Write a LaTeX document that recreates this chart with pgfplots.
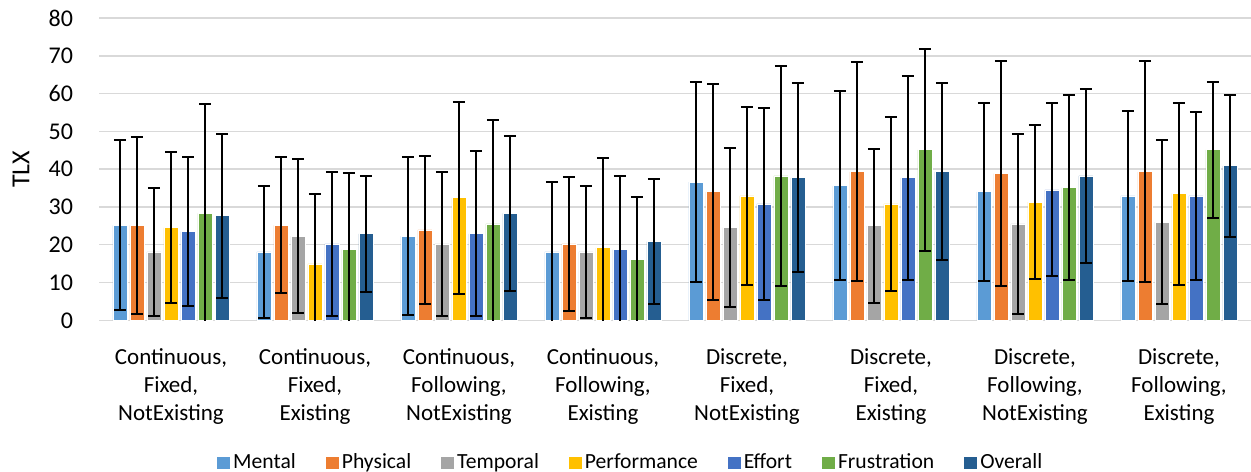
\documentclass[border=0pt]{standalone}
\usepackage{pgfplots}
\pgfplotsset{compat=1.18}
\usepackage{fontspec}
\setmainfont{Carlito}
\definecolor{cMental}{HTML}{5B9BD5}
\definecolor{cPhysical}{HTML}{ED7D31}
\definecolor{cTemporal}{HTML}{A5A5A5}
\definecolor{cPerformance}{HTML}{FFC000}
\definecolor{cEffort}{HTML}{4472C4}
\definecolor{cFrustration}{HTML}{70AD47}
\definecolor{cOverall}{HTML}{255E91}
\definecolor{gridgray}{HTML}{D9D9D9}
\begin{document}
\begin{tikzpicture}
\useasboundingbox (0,0) rectangle (625.5bp,236bp);
\begin{axis}[
  at={(49.5bp,75.85bp)}, anchor=south west,
  scale only axis, width=576bp, height=151.15bp,
  xmin=-0.5, xmax=7.5, ymin=0, ymax=80,
  ytick={0,10,...,80}, xtick={0,...,7},
  xticklabels={{Continuous,\\Fixed,\\NotExisting},{Continuous,\\Fixed,\\Existing},{Continuous,\\Following,\\NotExisting},{Continuous,\\Following,\\Existing},{Discrete,\\Fixed,\\NotExisting},{Discrete,\\Fixed,\\Existing},{Discrete,\\Following,\\NotExisting},{Discrete,\\Following,\\Existing}},
  ymajorgrids, grid style={color=gridgray, line width=0.75bp},
  axis line style={draw=none}, tick style={draw=none},
  /pgf/number format/assume math mode=true,
  xticklabel style={font=\fontsize{11.5bp}{14bp}\selectfont, align=center, yshift=-6.5bp},
  yticklabel style={font=\fontsize{12bp}{14bp}\selectfont, xshift=-9.5bp},
  ylabel={TLX},
  ylabel style={font=\fontsize{13bp}{15bp}\selectfont, at={(axis description cs:-0.0677,0.5)}, anchor=center},
  ybar=1.5bp, bar width=7bp,
  every axis plot/.append style={draw=white, line width=0.4bp,
    error bars/y dir=both, error bars/y explicit,
    error bars/error bar style={line width=1bp, black},
    error bars/error mark options={rotate=90, line width=1bp, black, mark size=3bp}},
  legend columns=7,
  legend style={draw=none, at={(axis description cs:0.462,-0.472)}, anchor=center,
    font=\fontsize{10.8bp}{13bp}\selectfont,
    /tikz/every even column/.append style={column sep=13.5bp},
    nodes={inner xsep=1.5bp, inner ysep=1bp}},
  legend image code/.code={\fill[#1,draw=none] (0bp,-3bp) rectangle (6.5bp,3bp);},
]
\addplot[fill=cMental] coordinates {(0,25.1) +- (0,22.5) (1,18.1) +- (0,17.4) (2,22.3) +- (0,21.0) (3,18.1) +- (0,18.6) (4,36.6) +- (0,26.5) (5,35.6) +- (0,25.0) (6,34.0) +- (0,23.6) (7,32.9) +- (0,22.5)};
\addplot[fill=cPhysical] coordinates {(0,25.1) +- (0,23.4) (1,25.1) +- (0,18.0) (2,23.9) +- (0,19.5) (3,20.2) +- (0,17.8) (4,34.0) +- (0,28.6) (5,39.3) +- (0,29.0) (6,38.8) +- (0,29.7) (7,39.3) +- (0,29.2)};
\addplot[fill=cTemporal] coordinates {(0,18.1) +- (0,16.9) (1,22.3) +- (0,20.4) (2,20.2) +- (0,19.0) (3,18.1) +- (0,17.4) (4,24.5) +- (0,21.0) (5,25.0) +- (0,20.4) (6,25.5) +- (0,23.9) (7,26.0) +- (0,21.7)};
\addplot[fill=cPerformance] coordinates {(0,24.5) +- (0,20.0) (1,14.9) +- (0,18.5) (2,32.4) +- (0,25.5) (3,19.2) +- (0,23.7) (4,32.9) +- (0,23.6) (5,30.8) +- (0,23.0) (6,31.3) +- (0,20.4) (7,33.5) +- (0,24.1)};
\addplot[fill=cEffort] coordinates {(0,23.5) +- (0,19.6) (1,20.2) +- (0,19.0) (2,22.9) +- (0,21.8) (3,18.7) +- (0,19.4) (4,30.8) +- (0,25.5) (5,37.7) +- (0,27.0) (6,34.5) +- (0,22.9) (7,32.9) +- (0,22.3)};
\addplot[fill=cFrustration] coordinates {(0,28.3) +- (0,29.0) (1,18.7) +- (0,20.4) (2,25.5) +- (0,27.5) (3,16.0) +- (0,16.6) (4,38.2) +- (0,29.0) (5,45.1) +- (0,26.8) (6,35.1) +- (0,24.4) (7,45.1) +- (0,18.0)};
\addplot[fill=cOverall] coordinates {(0,27.7) +- (0,21.7) (1,22.9) +- (0,15.4) (2,28.3) +- (0,20.6) (3,20.8) +- (0,16.5) (4,37.7) +- (0,25.0) (5,39.3) +- (0,23.4) (6,38.2) +- (0,23.1) (7,40.9) +- (0,18.8)};
\legend{Mental,Physical,Temporal,Performance,Effort,Frustration,Overall}
\end{axis}
\end{tikzpicture}
\end{document}
